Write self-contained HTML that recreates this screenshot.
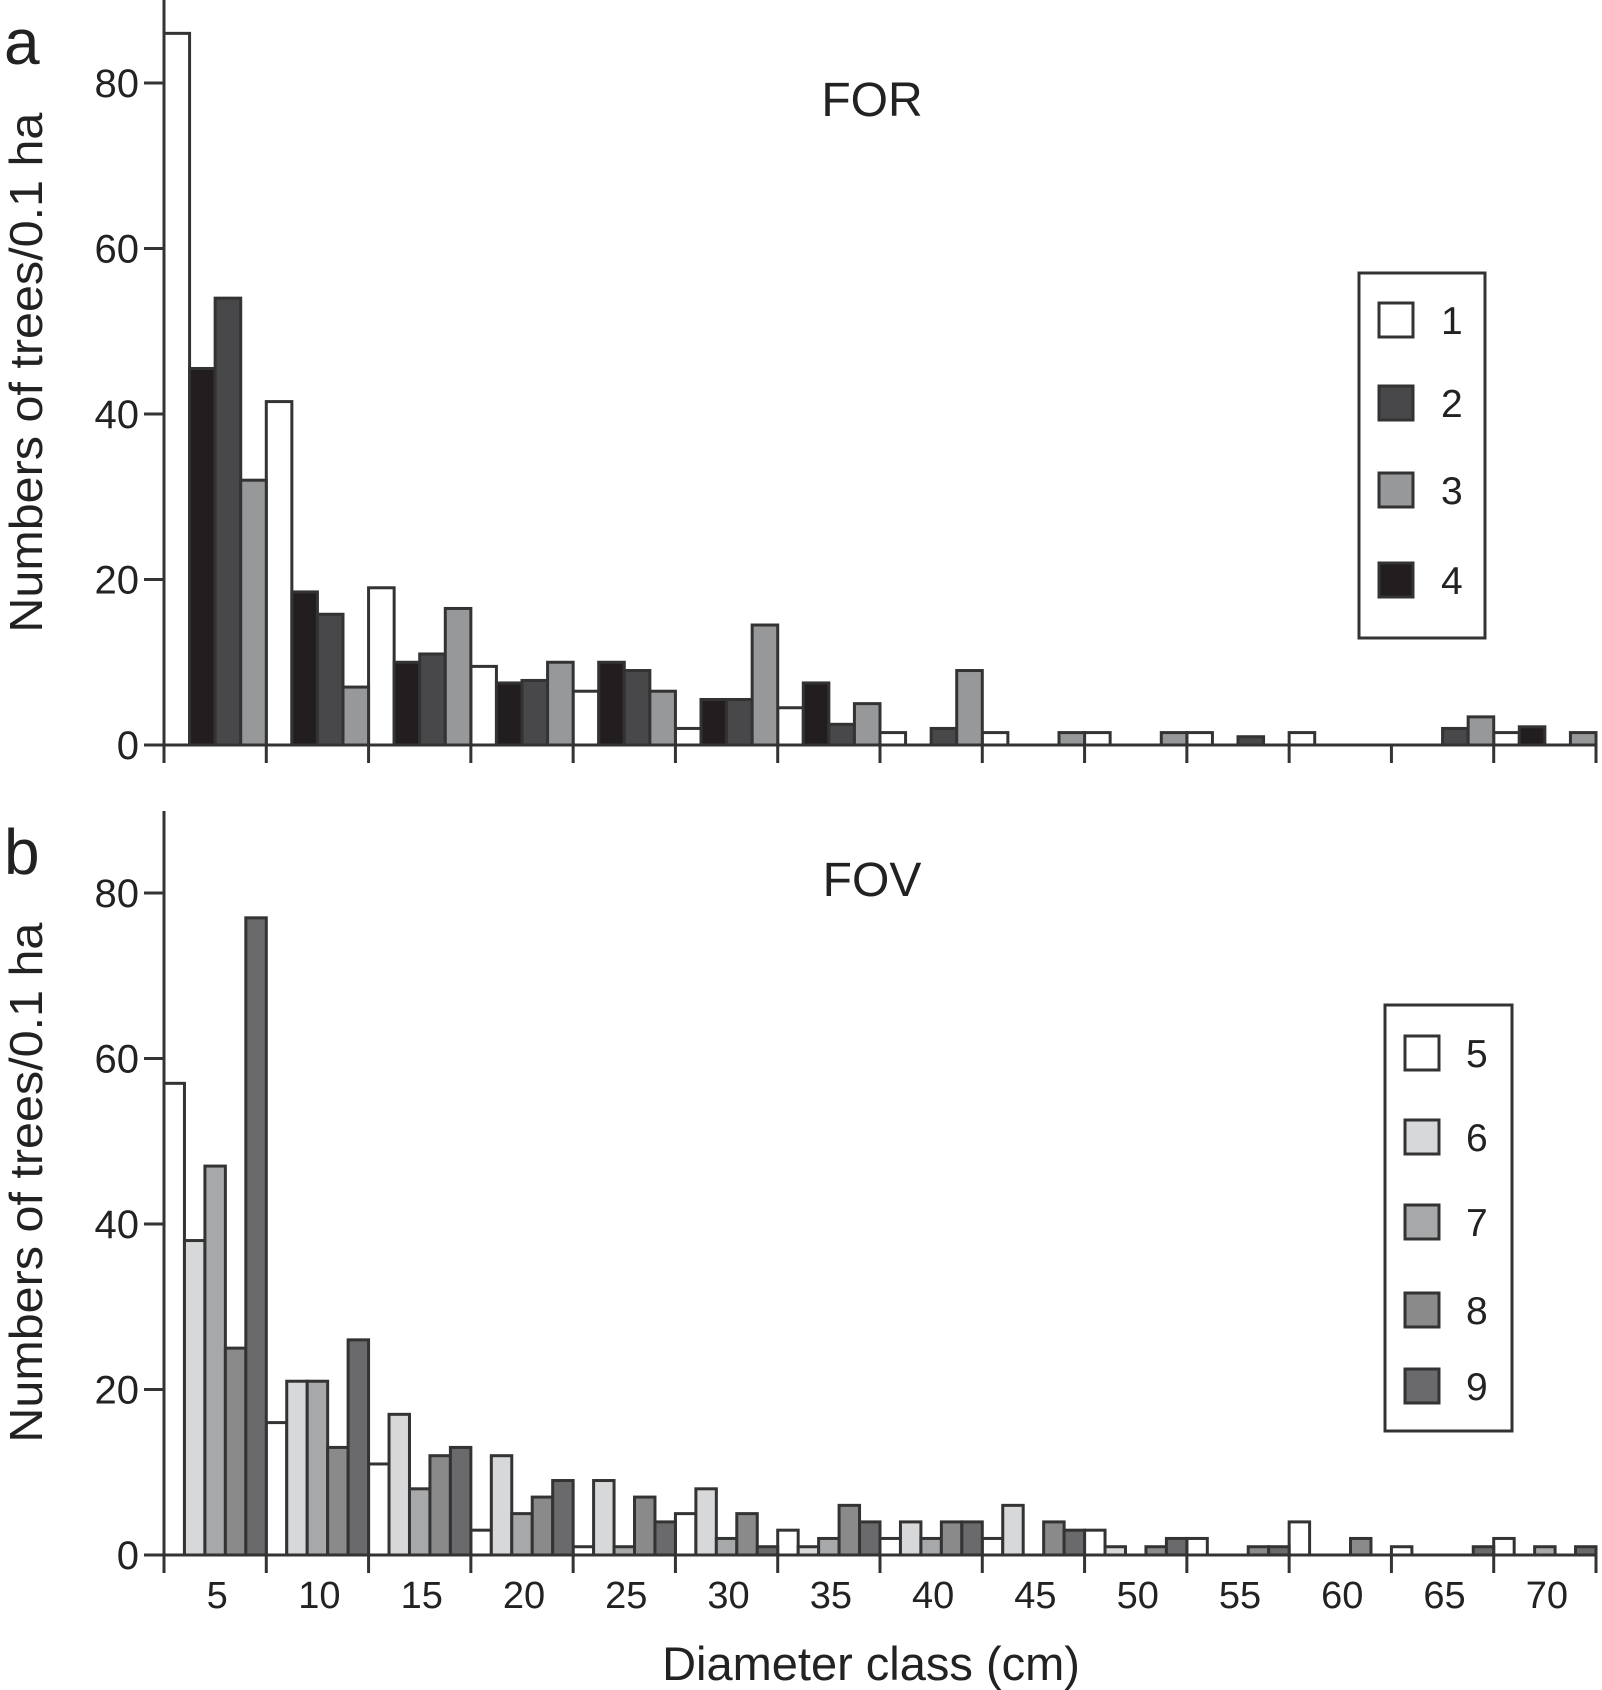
<!DOCTYPE html>
<html><head><meta charset="utf-8"><style>
html,body{margin:0;padding:0;background:#fff;}
svg{display:block;font-family:"Liberation Sans",Arial,sans-serif;}
</style></head><body>
<svg id="chart" width="1602" height="1690" viewBox="0 0 1602 1690" xmlns="http://www.w3.org/2000/svg">
<rect x="0" y="0" width="1602" height="1690" fill="#fff"/>
<g id="pa"></g>
<g id="pb"></g>
</svg>
<script>
const classLabels = [5,10,15,20,25,30,35,40,45,50,55,60,65,70];
const yTicks = [0,20,40,60,80];
const seriesA = ["1","4","2","3"];
const colorsA = ["#ffffff","#221e1f","#48484b","#979899"];
const s1 = [86,41.5,19,9.5,6.5,2,4.5,1.5,1.5,1.5,1.5,1.5,0,1.5];
const s4 = [45.5,18.5,10,7.5,10,5.5,7.5,0,0,0,0,0,0,2.2];
const s2 = [54,15.8,11,7.8,9,5.5,2.5,2,0,0,1,0,2,0];
const s3 = [32,7,16.5,10,6.5,14.5,5,9,1.5,1.5,0,0,3.4,1.5];
const seriesB = ["5","6","7","8","9"];
const colorsB = ["#ffffff","#d6d8d9","#a7a8aa","#8a8a8b","#6a6a6c"];
const s5 = [57,16,11,3,1,5,3,2,2,3,2,4,1,2];
const s6 = [38,21,17,12,9,8,1,4,6,1,0,0,0,0];
const s7 = [47,21,8,5,1,2,2,2,0,0,0,0,0,1];
const s8 = [25,13,12,7,7,5,6,4,4,1,1,2,0,0];
const s9 = [77,26,13,9,4,1,4,4,3,2,1,0,1,1];

const NS = "http://www.w3.org/2000/svg";
function mk(parent, tag, attrs, text){
  const e = document.createElementNS(NS, tag);
  for (const k in attrs) e.setAttribute(k, attrs[k]);
  if (text !== undefined) e.textContent = text;
  parent.appendChild(e);
  return e;
}
const X0 = 164, X1 = 1596, PXU = 8.275;
const groupW = (X1 - X0) / classLabels.length;
function xGroup(i){ return X0 + i * groupW; }

function panel(g, base, axisTop, letter, title, titleY, series, colors, names, legend, showLabels){
  const yS = v => base - v * PXU;
  const nS = series.length, bw = groupW / nS;
  series.forEach((arr, si) => {
    arr.forEach((v, i) => {
      if (v <= 0) return;
      const r = mk(g, "rect", {x: xGroup(i) + si*bw, y: yS(v), width: bw, height: v*PXU,
        fill: colors[si], stroke: "#333", "stroke-width": 3});
      
      
    });
  });
  const ax = mk(g, "line", {x1: X0, y1: axisTop, x2: X0, y2: base+1.5, stroke: "#333", "stroke-width": 3});
  
  
  const bx = mk(g, "line", {x1: X0, y1: base, x2: X1+1, y2: base, stroke: "#333", "stroke-width": 3});
  
  
  for (let i = 0; i <= classLabels.length; i++) {
    const t = mk(g, "line", {x1: xGroup(i), y1: base, x2: xGroup(i), y2: base+18, stroke: "#333", "stroke-width": 3});
    
    
  }
  if (showLabels) classLabels.forEach((c, i) => {
    const t = mk(g, "text", {x: xGroup(i) + groupW/2 + 2, y: base + 53, "font-size": 38, "text-anchor": "middle", fill: "#222"}, String(c));
    
    
  });
  yTicks.forEach(v => {
    const l = mk(g, "line", {x1: X0-20, y1: yS(v), x2: X0, y2: yS(v), stroke: "#333", "stroke-width": 3});
    
    
    const t = mk(g, "text", {x: X0-25, y: yS(v)+14, "font-size": 40, "text-anchor": "end", fill: "#222"}, String(v));
    
    
  });
  const cy = yS(45);
  const yt = mk(g, "text", {x: 0, y: 0, transform: "translate(42," + cy + ") rotate(-90)", "font-size": 46, "text-anchor": "middle", fill: "#222", textLength: 520, lengthAdjust: "spacingAndGlyphs"}, "Numbers of trees/0.1 ha");
  
  
  const pl = mk(g, "text", {x: 4, y: yS(80)-19, "font-size": 64, fill: "#222"}, letter);
  
  
  const tt = mk(g, "text", {x: 872, y: titleY, "font-size": 48, "text-anchor": "middle", fill: "#222"}, title);
  
  
  const lg = mk(g, "g", {});
  
  
  mk(lg, "rect", {x: legend.x, y: legend.y, width: legend.w, height: legend.h, fill: "#fff", stroke: "#333", "stroke-width": 3});
  legend.order.forEach((si, k) => {
    const cyk = legend.cys[k];
    const e = mk(lg, "g", {});
    
    
    mk(e, "rect", {x: legend.sx, y: cyk-17, width: 34, height: 34, fill: colors[si], stroke: "#333", "stroke-width": 3});
    mk(e, "text", {x: legend.tx, y: cyk+14, "font-size": 39, fill: "#222"}, names[si]);
  });
}

panel(document.getElementById("pa"), 745, 0, "a", "FOR", 116,
  [s1,s4,s2,s3], colorsA, seriesA,
  {x:1359, y:273, w:126, h:365, sx:1379, tx:1441, order:[0,2,3,1], cys:[320,403,490,580]}, false);
panel(document.getElementById("pb"), 1555, 811, "b", "FOV", 896,
  [s5,s6,s7,s8,s9], colorsB, seriesB,
  {x:1385, y:1005, w:127, h:426, sx:1405, tx:1466, order:[0,1,2,3,4], cys:[1053,1137,1222,1310,1386]}, true);

const xt = document.createElementNS(NS, "text");
xt.setAttribute("x", 871); xt.setAttribute("y", 1680);
xt.setAttribute("font-size", 47); xt.setAttribute("text-anchor", "middle"); xt.setAttribute("fill", "#222");
xt.textContent = "Diameter class (cm)";


document.getElementById("chart").appendChild(xt);
</script>
</body></html>
